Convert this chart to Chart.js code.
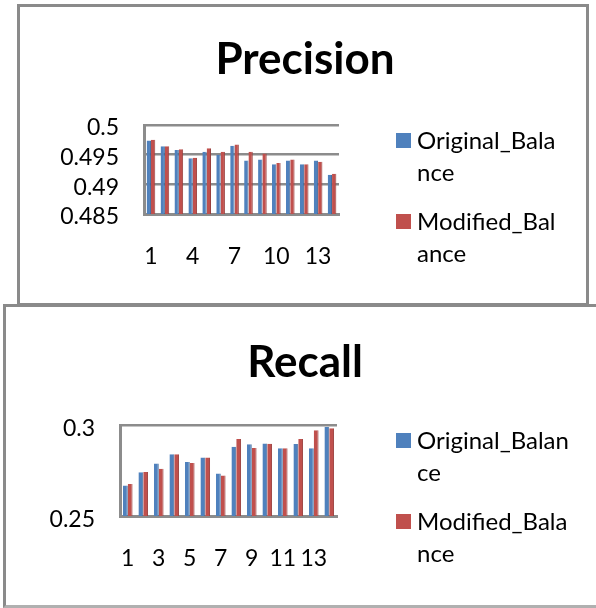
<!DOCTYPE html>
<html>
<head>
<meta charset="utf-8">
<script src="https://cdn.jsdelivr.net/npm/chart.js@4/dist/chart.umd.min.js"></script>
<style>
  html,body{margin:0;padding:0;background:#fff;}
  body{width:596px;height:608px;position:relative;overflow:hidden;font-family:Lato,"Noto Sans",sans-serif;color:#000;}
  .box{position:absolute;box-sizing:border-box;}
  .title{position:absolute;font-weight:bold;font-size:44px;text-align:center;width:300px;line-height:44px;}
  .leg{position:absolute;font-size:24px;line-height:32px;}
  .sw{position:absolute;width:15px;height:15px;}
  canvas{position:absolute;left:0;}
</style>
</head>
<body>
<div class="box" style="left:17px;top:4px;width:572px;height:302px;border:3px solid #8a8a8a;"></div>
<div class="box" style="left:3px;top:304px;width:600px;height:304px;border:3px solid #8a8a8a;border-bottom-color:#b0b0b0;border-right:none;"></div>

<canvas id="c1" width="596" height="305" style="top:0;"></canvas>
<canvas id="c2" width="596" height="303" style="top:305px;"></canvas>

<div id="t1" class="title" style="left:155px;top:35px;"></div>
<div id="t2" class="title" style="left:155px;top:338px;"></div>

<div id="legend1"></div>
<div id="legend2"></div>

<script>
// ---- data ----
const categories = ['1','2','3','4','5','6','7','8','9','10','11','12','13','14'];
const precisionOriginal = [0.4974,0.4964,0.4958,0.4944,0.4955,0.4950,0.4965,0.4940,0.4942,0.4934,0.4940,0.4934,0.4940,0.4916];
const precisionModified = [0.4975,0.4964,0.4959,0.4945,0.4961,0.4955,0.4967,0.4955,0.4952,0.4936,0.4942,0.4934,0.4938,0.4918];
const recallOriginal = [0.2667,0.2740,0.2789,0.2839,0.2797,0.2821,0.2733,0.2881,0.2894,0.2899,0.2872,0.2896,0.2872,0.2989];
const recallModified = [0.2676,0.2742,0.2760,0.2839,0.2791,0.2821,0.2723,0.2923,0.2874,0.2897,0.2872,0.2923,0.2971,0.2982];
const precisionXTicks = ['1','4','7','10','13'];
const recallXTicks = ['1','3','5','7','9','11','13'];
const precisionYTicks = [0.485,0.49,0.495,0.5];
const recallYTicks = [0.25,0.3];
const seriesNames = ['Original_Balance','Modified_Balance'];
const precisionLegendLines = [['Original_Bala','nce'],['Modified_Bal','ance']];
const recallLegendLines = [['Original_Balan','ce'],['Modified_Bala','nce']];
const titles = ['Precision','Recall'];

const BLUE = '#4F81BD', RED = '#C0504D';
const GRID = '#8c8c8c';
const FONT = {family:'Lato, "Noto Sans", sans-serif', size:23};

document.getElementById('t1').textContent = titles[0];
document.getElementById('t2').textContent = titles[1];

function buildLegend(id, lines, top){
  const el = document.getElementById(id);
  const colors=[BLUE,RED];
  const tops=[top, top+81];
  lines.forEach((ls,i)=>{
    const sw=document.createElement('div');
    sw.className='sw'; sw.style.background=colors[i];
    sw.style.left='396px'; sw.style.top=(tops[i]+9)+'px';
    el.appendChild(sw);
    const t=document.createElement('div');
    t.className='leg'; t.style.left='417px'; t.style.top=tops[i]+'px';
    t.innerHTML=ls.join('<br>');
    el.appendChild(t);
  });
}
buildLegend('legend1', precisionLegendLines, 124);
buildLegend('legend2', recallLegendLines, 424);

function shade(hex, p){
  const n=parseInt(hex.slice(1),16);
  let r=n>>16,g=(n>>8)&255,b=n&255;
  r=Math.round(r*(1+p));g=Math.round(g*(1+p));b=Math.round(b*(1+p));
  return 'rgb('+r+','+g+','+b+')';
}

function makeChart(id, orig, mod, ymin, ymax, yTickVals, xTickShow, cfg){
  return new Chart(document.getElementById(id), {
    type:'bar',
    data:{
      labels:categories,
      datasets:[
        {label:seriesNames[0], data:orig, backgroundColor:BLUE, borderColor:shade(BLUE,-0.2), borderWidth:{left:0,right:1,top:0,bottom:0}, barPercentage:1, categoryPercentage:0.62},
        {label:seriesNames[1], data:mod, backgroundColor:RED, borderColor:shade(RED,-0.2), borderWidth:{left:0,right:1,top:0,bottom:0}, barPercentage:1, categoryPercentage:0.62}
      ]
    },
    options:{
      responsive:false, animation:false, devicePixelRatio:1,
      layout:{padding:cfg.padding},
      plugins:{legend:{display:false}, title:{display:false}, tooltip:{enabled:false}},
      scales:{
        x:{
          grid:{display:false, drawTicks:false},
          border:{display:true,color:GRID,width:3},
          ticks:{autoSkip:false, maxRotation:0, minRotation:0, color:'#000', font:FONT, padding:cfg.xPad,
            callback:function(v,i){const l=categories[i]; return xTickShow.includes(l)?l:'';}},
          afterFit:(s)=>{s.height=70;}
        },
        y:{
          min:ymin, max:ymax,
          afterBuildTicks:(s)=>{s.ticks=yTickVals.map(v=>({value:v}));},
          grid:{color:GRID, lineWidth:2.5, drawTicks:false},
          border:{display:true,color:GRID,width:3},
          ticks:{autoSkip:false, color:'#000', font:FONT, padding:25, labelOffset:cfg.labelOffset,
            callback:(v)=>String(parseFloat(v.toFixed(3)))},
          afterFit:(s)=>{s.width=cfg.yWidth;}
        }
      }
    }
  });
}

makeChart('c1', precisionOriginal, precisionModified, 0.485, 0.5, precisionYTicks, precisionXTicks,
  {padding:{left:0,right:257,top:125,bottom:21}, xPad:29, yWidth:144, labelOffset:3});
makeChart('c2', recallOriginal, recallModified, 0.25, 0.3, recallYTicks, recallXTicks,
  {padding:{left:0,right:259,top:120,bottom:22}, xPad:29, yWidth:120, labelOffset:4});
</script>
</body>
</html>
